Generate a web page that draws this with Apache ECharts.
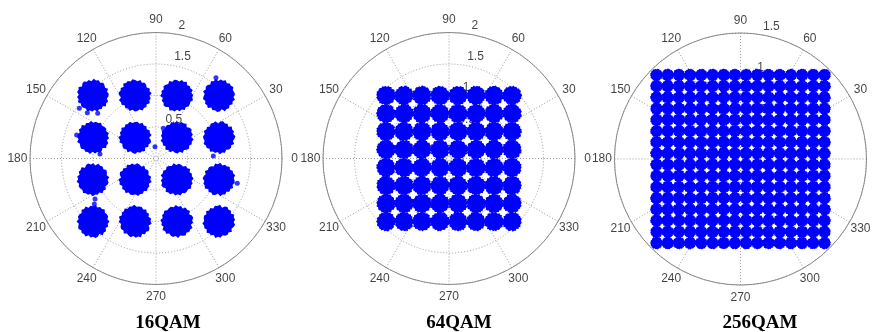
<!DOCTYPE html>
<html><head><meta charset="utf-8">
<script src="https://cdn.jsdelivr.net/npm/echarts@6/dist/echarts.min.js"></script>
<style>html,body{margin:0;padding:0;background:#fff}#c{width:872px;height:332px}</style>
</head><body><div id="c"></div>
<script>
// ---- data ----
const titles = ['16QAM', '64QAM', '256QAM'];
const levels16 = [-1, -0.333, 0.333, 1];
const levels64 = [-1, -0.714, -0.429, -0.143, 0.143, 0.429, 0.714, 1];
const levels256 = [-1, -0.867, -0.733, -0.6, -0.467, -0.333, -0.2, -0.067, 0.067, 0.2, 0.333, 0.467, 0.6, 0.733, 0.867, 1];
// a few stray 16QAM samples outside the clouds (I, Q)
const outliers16I = [0.952, -1.09, -0.925, -1.217, -0.016, 0.116, -0.889, 0.91, -0.979, -0.968, 1.29, -1.259];
const outliers16Q = [1.283, 0.727, 0.717, 0.797, 0.187, 0.479, 0.071, 0.04, -0.722, -0.643, -0.394, 0.373];
const radiusMax = [2, 2, 1.5];
const radialTicks16 = [0.5, 1, 1.5, 2];
const radialTicks64 = [0.5, 1, 1.5, 2];
const radialTicks256 = [0.5, 1, 1.5];
const angleTicks = [0, 30, 60, 90, 120, 150, 180, 210, 240, 270, 300, 330];

// ---- layout / style ----
const centers = [[156, 158.5], [449, 158.5], [740.5, 159]];
const R = 126;
const blobSizes = [33, 20, 13];
const titleX = [168, 459, 760];
const bump = [1, 0.9, 0.97, 0.86, 0.98, 0.93, 1, 0.84, 0.95, 0.99, 0.9, 0.96, 0.85, 1, 0.92, 0.97, 0.88, 0.99, 0.94, 0.87,
  1, 0.88, 0.96, 0.93, 0.85, 0.98, 0.91, 1, 0.86, 0.95, 0.9, 0.99, 0.87, 0.96, 0.92, 1, 0.89, 0.94, 0.97, 0.88];
function blobPath() {
  let d = '';
  bump.forEach((r, i) => {
    const a = i / bump.length * Math.PI * 2;
    d += (i ? 'L' : 'M') + (50 + 50 * r * Math.cos(a)).toFixed(1) + ' ' + (50 + 50 * r * Math.sin(a)).toFixed(1);
  });
  return 'path://' + d + 'Z';
}
const BLOB = blobPath();

function toPolar(i, q) {
  const r = Math.sqrt(i * i + q * q);
  let th = Math.atan2(q, i) * 180 / Math.PI;
  if (th < 0) th += 360;
  return [r, th];
}
function constellation(levels) {
  const out = [];
  levels.forEach(q => levels.forEach(i => out.push(toPolar(i, q))));
  return out;
}
const allLevels = [levels16, levels64, levels256];
const allTicks = [radialTicks16, radialTicks64, radialTicks256];

const gridDot = { color: '#9a9a9a', type: [1, 2], width: 1 };
const textStyle = { color: '#111', fontSize: 12, fontFamily: 'Liberation Sans' };
const option = {
  animation: false,
  backgroundColor: '#fff',
  title: titles.map((t, k) => ({
    text: t, left: titleX[k], top: 314, textAlign: 'center', padding: 0,
    textStyle: { fontFamily: 'Liberation Serif', fontWeight: 'bold', fontSize: 19, color: '#000' }
  })),
  polar: centers.map(c => ({ center: c, radius: R })),
  angleAxis: centers.map((c, k) => ({
    polarIndex: k, type: 'value', min: 0, max: 360, interval: 30, startAngle: 0, clockwise: false,
    axisLine: { show: true, lineStyle: { color: '#8a8a8a', width: 1 } },
    axisTick: { show: false },
    axisLabel: { show: false },
    splitLine: { show: true, lineStyle: gridDot }
  })),
  radiusAxis: centers.map((c, k) => ({
    polarIndex: k, type: 'value', min: 0, max: radiusMax[k], interval: 0.5,
    axisLine: { show: false }, axisTick: { show: false }, axisLabel: { show: false },
    splitLine: { show: true, lineStyle: gridDot }
  })),
  series: []
};
// angle labels, centred at 1.1 x the outer radius (MATLAB polar style)
radiusMax.forEach((m, k) => {
  option.series.push({
    type: 'scatter', coordinateSystem: 'polar', polarIndex: k, z: 1, silent: true, clip: false,
    symbolSize: 1, itemStyle: { color: 'rgba(0,0,0,0)' },
    label: Object.assign({ show: true, position: 'inside', align: 'center', verticalAlign: 'middle',
      formatter: p => String(p.value[1]) }, textStyle),
    data: angleTicks.map(a => [m * 1.1, a])
  });
});
// radial tick labels along the 82 degree direction
allTicks.forEach((ticks, k) => {
  option.series.push({
    type: 'scatter', coordinateSystem: 'polar', polarIndex: k, z: 1, silent: true,
    symbolSize: 1, itemStyle: { color: 'rgba(0,0,0,0)' },
    label: Object.assign({ show: true, position: 'inside', align: 'left', verticalAlign: 'middle', offset: [5, -8],
      formatter: p => String(p.value[0]) }, textStyle),
    data: ticks.map(t => [t, 82])
  });
});
allLevels.forEach((lv, k) => {
  option.series.push({
    type: 'scatter', coordinateSystem: 'polar', polarIndex: k, z: 3, silent: true,
    symbol: BLOB, symbolSize: blobSizes[k],
    symbolRotate: (v, p) => (p.dataIndex * 47) % 360,
    itemStyle: { color: '#0000ff', opacity: 1 },
    data: constellation(lv)
  });
});
option.series.push({
  type: 'scatter', coordinateSystem: 'polar', polarIndex: 0, z: 3, silent: true,
  symbol: 'circle', symbolSize: 5, itemStyle: { color: '#0000ff' },
  data: outliers16I.map((v, j) => toPolar(v, outliers16Q[j]))
});
const chart = echarts.init(document.getElementById('c'), null, { renderer: 'canvas' });
chart.setOption(option);
</script>
</body></html>
